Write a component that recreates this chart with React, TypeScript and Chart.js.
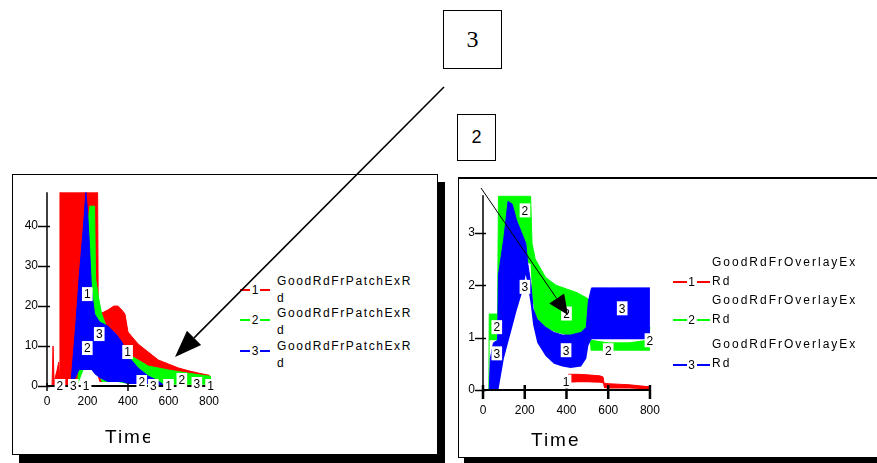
import React, { useEffect, useRef } from "react";
import { Chart, registerables } from "chart.js";

Chart.register(...registerables);

const FONT = "'Liberation Sans', Arial, Helvetica, sans-serif";

// ---------- Left chart: GoodRdFrPatchExRd ----------
const leftXTicks = [0, 200, 400, 600, 800];
const leftYTicks = [0, 10, 20, 30, 40];
const leftLegend = [["GoodRdFrPatchExR", "d"], ["GoodRdFrPatchExR", "d"], ["GoodRdFrPatchExR", "d"]];

const leftRedT = [25, 30, 35, 50, 58, 62, 64, 100, 150, 160, 250, 253, 260, 300, 330, 350, 370, 385, 400, 450, 500, 550, 600, 650, 700, 750, 800, 808];
const leftRedHigh = [0, 10, 1, 4, 6, 2, 48.5, 48.5, 48.5, 48.5, 48.5, 19, 18, 19, 20, 20, 19, 18, 13.5, 10.5, 8.5, 6.5, 5.5, 4.5, 3.8, 3.2, 2.7, 2.3];
const leftRedLow = [0, 0, 0, 0, 0, 0, 0, 0, 0, 4, 4, 2, 1, 1, 1, 1, 1, 1, 1, 1, 1, 1, 1, 1, 1, 1, 1, 1];

const leftGreenT = [150, 180, 200, 212, 235, 240, 255, 270, 300, 350, 400, 450, 500, 550, 600, 650, 700, 750, 800, 810];
const leftGreenHigh = [0, 20, 40, 45, 45, 27, 22, 18, 14, 11, 8, 6.5, 5, 4.5, 4, 3.6, 3.2, 2.8, 2.5, 2.3];
const leftGreenLow = [0, 4, 4, 4, 4, 4, 3, 1, 1, 1, 0.5, 0.5, 0.4, 0.3, 0.3, 0.3, 0.3, 0.3, 0.3, 0.3];

const leftBlueT = [115, 122, 140, 160, 180, 192, 200, 210, 220, 235, 260, 300, 340, 370, 400, 450, 500, 540, 570, 580];
const leftBlueHigh = [0, 3, 14, 28, 40, 48.5, 44, 35, 24, 18, 16, 15, 13, 11, 7.5, 4.5, 2.5, 1.5, 0.5, 0];
const leftBlueLow = [0, 0, 2, 4, 4, 4, 4, 4, 4, 3, 2, 1, 1, 1, 0.5, 0.5, 0.5, 0.3, 0.2, 0];

const leftTags1 = [[193, 0], [199, 23], [398, 8.5], [600, 0], [808, 0]];
const leftTags2 = [[64, 0], [199, 9.5], [468, 1], [666, 1.5]];
const leftTags3 = [[130, 0], [258, 13], [525, 0], [740, 0.5]];

// ---------- Right chart: GoodRdFrOverlayExRd ----------
const rightXTicks = [0, 200, 400, 600, 800];
const rightYTicks = [0, 1, 2, 3];
const rightLegend = [["GoodRdFrOverlayEx", "Rd"], ["GoodRdFrOverlayEx", "Rd"], ["GoodRdFrOverlayEx", "Rd"]];

const rightRedT = [405, 410, 450, 500, 560, 575, 580, 600, 650, 700, 750, 800];
const rightRedHigh = [0, 0.3, 0.3, 0.29, 0.27, 0.25, 0.13, 0.12, 0.11, 0.1, 0.08, 0.06];
const rightRedLow = [0, 0.14, 0.15, 0.15, 0.14, 0.13, 0.04, 0.03, 0.03, 0.03, 0.02, 0.01];

const rightGreenT = [28, 30, 70, 74, 150, 228, 235, 250, 300, 350, 400, 450, 500, 510, 516, 600, 700, 790, 800];
const rightGreenHigh = [0, 1.45, 1.45, 3.7, 3.7, 3.7, 2.8, 2.5, 2.15, 2.0, 1.93, 1.86, 1.75, 1.7, 0.95, 0.9, 0.9, 0.95, 1.2];
const rightGreenLow = [0, 0.95, 0.95, 2.0, 2.6, 2.4, 1.8, 1.4, 1.2, 1.1, 1.05, 1.0, 1.0, 1.0, 0.75, 0.75, 0.75, 0.75, 0.75];

const rightBlueT = [30, 35, 50, 70, 74, 100, 120, 140, 160, 190, 205, 215, 230, 240, 260, 300, 340, 380, 420, 470, 495, 505, 520, 600, 700, 800];
const rightBlueHigh = [0, 0.6, 0.9, 0.95, 2.2, 2.9, 3.6, 3.55, 3.25, 2.95, 2.8, 2.4, 2.0, 1.55, 1.35, 1.2, 1.1, 1.05, 1.05, 1.1, 1.2, 1.7, 1.95, 1.95, 1.95, 1.95];
const rightBlueLow = [0, 0, 0, 0, 0, 0.6, 0.9, 1.2, 1.5, 1.9, 2.2, 2.0, 1.6, 1.25, 0.9, 0.65, 0.5, 0.45, 0.42, 0.45, 0.6, 0.85, 0.97, 0.97, 0.97, 0.97];

const rightTags1 = [[398, 0.16]];
const rightTags2 = [[201, 3.43], [66, 1.2], [400, 1.46], [600, 0.76], [800, 0.95]];
const rightTags3 = [[66, 0.7], [201, 1.97], [398, 0.76], [667, 1.56]];

const RED = "#ff0000";
const GREEN = "#00ff00";
const BLUE = "#0000ff";

function band(t: number[], low: number[], high: number[], color: string, order: number) {
  return [
    {
      data: t.map((x, i) => ({ x, y: low[i] })),
      borderColor: "rgba(0,0,0,0)",
      backgroundColor: "rgba(0,0,0,0)",
      borderWidth: 0,
      pointRadius: 0,
      fill: false,
      order,
    },
    {
      data: t.map((x, i) => ({ x, y: high[i] })),
      borderColor: color,
      backgroundColor: color,
      borderWidth: 1,
      pointRadius: 0,
      fill: "-1",
      order,
    },
  ];
}

function tags(list: number[][], text: string) {
  return list.map(([x, y]) => ({ x, y, text }));
}

const overlayPlugin = {
  id: "overlay",
  afterDatasetsDraw(chart: any, _args: any, o: any) {
    const { ctx, chartArea: ca } = chart;
    const xs = chart.scales.x;
    const ys = chart.scales.y;
    const ax = xs.getPixelForValue(0);
    const ay = ys.getPixelForValue(0);
    ctx.save();
    ctx.strokeStyle = "#000";
    ctx.lineWidth = o.yLineWidth;
    ctx.beginPath();
    ctx.moveTo(ax, ca.top);
    ctx.lineTo(ax, ay + 1);
    ctx.stroke();
    ctx.lineWidth = o.xLineWidth;
    ctx.beginPath();
    ctx.moveTo(ax - 1, ay);
    ctx.lineTo(ca.right, ay);
    ctx.stroke();
    ctx.lineWidth = o.yTickWidth;
    for (const v of o.yTicks) {
      const py = Math.round(ys.getPixelForValue(v)) + 0.5;
      ctx.beginPath();
      ctx.moveTo(ax - o.yTickLeft, py);
      ctx.lineTo(ax + o.yTickRight, py);
      ctx.stroke();
    }
    ctx.lineWidth = o.xTickWidth;
    for (const v of o.xTicks) {
      const px = xs.getPixelForValue(v);
      ctx.beginPath();
      ctx.moveTo(px, ay - o.xTickUp);
      ctx.lineTo(px, ay + o.xTickDown);
      ctx.stroke();
    }
    ctx.font = `12px ${FONT}`;
    ctx.textAlign = "center";
    ctx.textBaseline = "middle";
    for (const tg of o.tags) {
      const px = xs.getPixelForValue(tg.x);
      const py = ys.getPixelForValue(tg.y);
      const w = ctx.measureText(tg.text).width + 4;
      ctx.fillStyle = "#fff";
      ctx.fillRect(px - w / 2, py - 7, w, 14);
      ctx.fillStyle = "#000";
      ctx.fillText(tg.text, px, py + 1);
    }
    ctx.restore();
  },
};

type PanelCfg = {
  width: number;
  height: number;
  xMax: number;
  yMax: number;
  xTicks: number[];
  yTicks: number[];
  padTop: number;
  padRight: number;
  yWidth: number;
  xHeight: number;
  yLabelPad: number;
  xLabelPad: number;
  datasets: any[];
  overlay: any;
};

function BandChart({ cfg, left, top }: { cfg: PanelCfg; left: number; top: number }) {
  const ref = useRef<HTMLCanvasElement | null>(null);
  useEffect(() => {
    if (!ref.current) return;
    const chart = new Chart(ref.current, {
      type: "line",
      data: { datasets: cfg.datasets },
      plugins: [overlayPlugin],
      options: {
        animation: false,
        responsive: false,
        maintainAspectRatio: false,
        events: [],
        layout: { padding: { top: cfg.padTop, right: cfg.padRight, left: 0, bottom: 0 } },
        plugins: {
          legend: { display: false },
          tooltip: { enabled: false },
          overlay: cfg.overlay,
        } as any,
        scales: {
          x: {
            type: "linear",
            min: 0,
            max: cfg.xMax,
            afterBuildTicks: (s: any) => {
              s.ticks = cfg.xTicks.map((v) => ({ value: v }));
            },
            afterFit: (s: any) => {
              s.height = cfg.xHeight;
            },
            grid: { display: false, drawTicks: false },
            border: { display: false },
            ticks: {
              color: "#000",
              font: { family: FONT, size: 12 },
              padding: cfg.xLabelPad,
              maxRotation: 0,
              autoSkip: false,
            },
          },
          y: {
            type: "linear",
            min: 0,
            max: cfg.yMax,
            afterBuildTicks: (s: any) => {
              s.ticks = cfg.yTicks.map((v) => ({ value: v }));
            },
            afterFit: (s: any) => {
              s.width = cfg.yWidth;
            },
            grid: { display: false, drawTicks: false },
            border: { display: false },
            ticks: {
              color: "#000",
              font: { family: FONT, size: 12 },
              padding: cfg.yLabelPad,
              autoSkip: false,
            },
          },
        },
      } as any,
    });
    return () => chart.destroy();
  }, []);
  return (
    <canvas
      ref={ref}
      width={cfg.width}
      height={cfg.height}
      style={{ position: "absolute", left, top, width: cfg.width, height: cfg.height }}
    />
  );
}

const leftCfg: PanelCfg = {
  width: 222,
  height: 270,
  xMax: 810,
  yMax: 48.5,
  xTicks: leftXTicks,
  yTicks: leftYTicks,
  padTop: 16,
  padRight: 25,
  yWidth: 33,
  xHeight: 60,
  yLabelPad: 9,
  xLabelPad: 8,
  datasets: [
    ...band(leftRedT, leftRedLow, leftRedHigh, RED, 3),
    ...band(leftGreenT, leftGreenLow, leftGreenHigh, GREEN, 2),
    ...band(leftBlueT, leftBlueLow, leftBlueHigh, BLUE, 1),
  ],
  overlay: {
    yLineWidth: 1.5,
    xLineWidth: 2,
    yTicks: leftYTicks,
    xTicks: leftXTicks,
    yTickLeft: 9,
    yTickRight: 3,
    yTickWidth: 1.5,
    xTickUp: 3,
    xTickDown: 5,
    xTickWidth: 1.5,
    tags: [...tags(leftTags1, "1"), ...tags(leftTags2, "2"), ...tags(leftTags3, "3")],
  },
};

const rightCfg: PanelCfg = {
  width: 220,
  height: 270,
  xMax: 805,
  yMax: 3.72,
  xTicks: rightXTicks,
  yTicks: rightYTicks,
  padTop: 15,
  padRight: 29,
  yWidth: 23,
  xHeight: 60,
  yLabelPad: 8,
  xLabelPad: 13,
  datasets: [
    ...band(rightRedT, rightRedLow, rightRedHigh, RED, 3),
    ...band(rightGreenT, rightGreenLow, rightGreenHigh, GREEN, 2),
    ...band(rightBlueT, rightBlueLow, rightBlueHigh, BLUE, 1),
  ],
  overlay: {
    yLineWidth: 1.5,
    xLineWidth: 2,
    yTicks: rightYTicks,
    xTicks: rightXTicks,
    yTickLeft: 8,
    yTickRight: 3,
    yTickWidth: 1.5,
    xTickUp: 5,
    xTickDown: 9,
    xTickWidth: 2.5,
    tags: [...tags(rightTags1, "1"), ...tags(rightTags2, "2"), ...tags(rightTags3, "3")],
  },
};

function Legend({
  names,
  lineX0,
  lineX1,
  textX,
  textY,
  markerY,
  spacing,
  letterSpacing,
}: {
  names: string[][];
  lineX0: number;
  lineX1: number;
  textX: number;
  textY: number[];
  markerY: number[];
  spacing: number;
  letterSpacing: string;
}) {
  const colors = [RED, GREEN, BLUE];
  return (
    <>
      {names.map((lines, i) => (
        <React.Fragment key={i}>
          <div
            style={{
              position: "absolute",
              left: lineX0,
              top: markerY[i] - 1,
              width: lineX1 - lineX0,
              height: 2,
              background: colors[i],
            }}
          />
          <div
            style={{
              position: "absolute",
              left: (lineX0 + lineX1) / 2 - 5,
              top: markerY[i] - 7,
              width: 10,
              height: 14,
              background: "#fff",
              font: `12px ${FONT}`,
              lineHeight: "14px",
              textAlign: "center",
              color: "#000",
            }}
          >
            {i + 1}
          </div>
          {lines.map((ln, j) => (
            <div
              key={j}
              style={{
                position: "absolute",
                left: textX,
                top: textY[i] - 8 + j * spacing,
                font: `12px ${FONT}`,
                lineHeight: "16px",
                letterSpacing,
                color: "#000",
                whiteSpace: "nowrap",
              }}
            >
              {ln}
            </div>
          ))}
        </React.Fragment>
      ))}
    </>
  );
}

function Arrow({ x1, y1, x2, y2, head, half, width }: any) {
  const dx = x2 - x1;
  const dy = y2 - y1;
  const len = Math.hypot(dx, dy);
  const ux = dx / len;
  const uy = dy / len;
  const bx = x2 - ux * head;
  const by = y2 - uy * head;
  const px = -uy;
  const py = ux;
  const pts = `${x2},${y2} ${bx + px * half},${by + py * half} ${bx - px * half},${by - py * half}`;
  return (
    <>
      <line x1={x1} y1={y1} x2={bx} y2={by} stroke="#000" strokeWidth={width} />
      <polygon points={pts} fill="#000" />
    </>
  );
}

const timeStyle: React.CSSProperties = {
  position: "absolute",
  overflow: "hidden",
  font: `19px ${FONT}`,
  lineHeight: "22px",
  letterSpacing: "2px",
  whiteSpace: "nowrap",
  color: "#000",
};

export default function App() {
  return (
    <div
      style={{
        position: "absolute",
        left: 0,
        top: 0,
        width: 877,
        height: 463,
        overflow: "hidden",
        background: "#fff",
      }}
    >
      {/* Left panel frame */}
      <div
        style={{
          position: "absolute",
          left: 12,
          top: 174,
          width: 424,
          height: 279,
          border: "1px solid #000",
          boxShadow: "7px 8px 0 0 #000",
          background: "#fff",
        }}
      />
      {/* Right panel frame */}
      <div
        style={{
          position: "absolute",
          left: 458,
          top: 177,
          width: 440,
          height: 278,
          borderLeft: "1px solid #000",
          borderTop: "2px solid #000",
          borderBottom: "1px solid #000",
          boxShadow: "6px 6px 0 0 #000",
          background: "#fff",
        }}
      />

      <BandChart cfg={leftCfg} left={14} top={176} />
      <BandChart cfg={rightCfg} left={460} top={180} />

      <div style={{ ...timeStyle, left: 105, top: 426, width: 45 }}>Time</div>
      <div style={{ ...timeStyle, left: 531, top: 429, width: 56 }}>Time</div>

      <Legend
        names={leftLegend}
        lineX0={240}
        lineX1={270}
        textX={277}
        textY={[281, 313, 346]}
        markerY={[290, 320, 351]}
        spacing={17}
        letterSpacing="1.6px"
      />
      <Legend
        names={rightLegend}
        lineX0={673}
        lineX1={710}
        textX={712}
        textY={[262, 300, 344]}
        markerY={[282, 320, 365]}
        spacing={19}
        letterSpacing="2px"
      />

      {/* Annotation boxes */}
      <div
        style={{
          position: "absolute",
          left: 443,
          top: 10,
          width: 57,
          height: 57,
          border: "1.5px solid #000",
          font: "24px 'Liberation Serif', 'Times New Roman', serif",
          lineHeight: "57px",
          textAlign: "center",
        }}
      >
        3
      </div>
      <div
        style={{
          position: "absolute",
          left: 457,
          top: 114,
          width: 37,
          height: 45,
          border: "1.5px solid #000",
          font: `18px ${FONT}`,
          lineHeight: "45px",
          textAlign: "center",
        }}
      >
        2
      </div>

      <svg
        width={877}
        height={463}
        style={{ position: "absolute", left: 0, top: 0, pointerEvents: "none" }}
      >
        <Arrow x1={444} y1={87} x2={175} y2={357} head={27} half={10} width={1.6} />
        <Arrow x1={481} y1={188} x2={568} y2={315} head={20} half={9} width={1} />
      </svg>
    </div>
  );
}
